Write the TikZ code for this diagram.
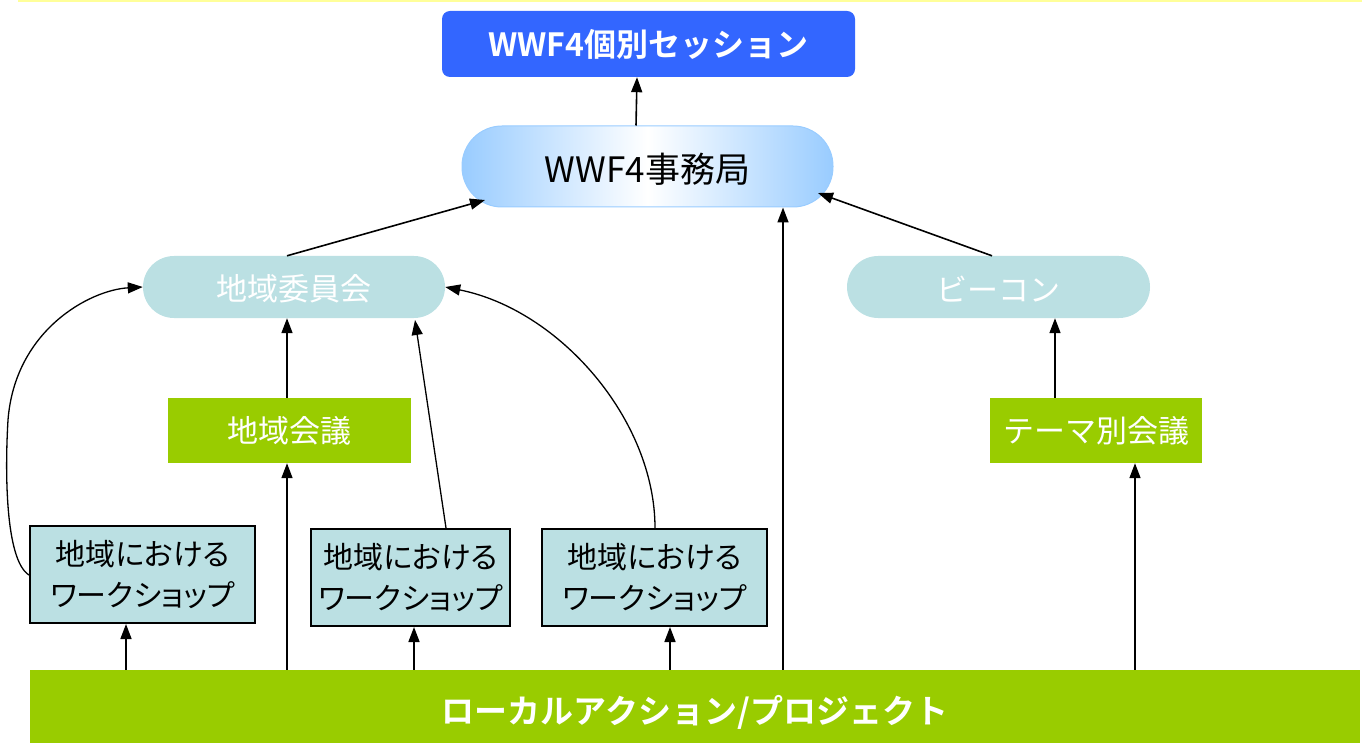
\documentclass[tikz,border=0pt]{standalone}
\usepackage{fontspec}
\setmainfont{Noto Sans CJK JP}
\newfontfamily\jpbold{Noto Sans CJK JP Bold}
\newfontfamily\jpprop[RawFeature=+palt]{Noto Sans CJK JP}
\usetikzlibrary{arrows.meta}
\definecolor{topblue}{HTML}{3366FF}
\definecolor{paleblue}{HTML}{99CCFF}
\definecolor{pillcol}{HTML}{BBE0E3}
\definecolor{grn}{HTML}{99CC00}
\definecolor{ylw}{HTML}{FFFF99}
\begin{document}
\begin{tikzpicture}[x=1pt,y=-1pt,
  arr/.style={draw=black,line width=1.6pt,-{Triangle[length=15pt,width=11pt]}},
  pill/.style={fill=pillcol,draw=none,rounded corners=31pt,inner sep=0pt},
  pilltext/.style={text=white,font=\fontsize{31}{34}\selectfont,inner sep=0pt},
  grnbox/.style={fill=grn,draw=none,text=white,font=\fontsize{31}{34}\selectfont,inner sep=0pt},
  wsbox/.style={fill=pillcol,draw=black,line width=2pt,text=black,align=center,font=\jpprop\fontsize{30}{41}\selectfont,inner sep=0pt}]
\useasboundingbox (0,0) rectangle (1362,743);
\fill[ylw] (18,0) rectangle (1362,2.5);
% nodes
\node[fill=topblue,rounded corners=8pt,text=white,inner sep=0pt,minimum width=413pt,minimum height=66pt,font=\jpbold\fontsize{32}{35}\selectfont] (sess) at (648.5,44) {WWF4個別セッション};
\node[rounded corners=40pt,draw=paleblue,line width=1pt,left color=paleblue,right color=paleblue,middle color=white,inner sep=0pt,minimum width=371pt,minimum height=81pt,label={[font=\fontsize{35}{38}\selectfont,inner sep=0pt,yshift=-3pt]center:WWF4事務局}] (sec) at (647.5,166.5) {};
\node[pill,minimum width=302pt,minimum height=62pt,label={[pilltext,yshift=-2pt]center:地域委員会}] (iin) at (294,287) {};
\node[pill,minimum width=303pt,minimum height=62pt,label={[pilltext,yshift=-2pt]center:ビーコン}] (bea) at (998.5,287) {};
\node[grnbox,minimum width=243pt,minimum height=65pt] (kai) at (289.5,430.5) {地域会議};
\node[grnbox,minimum width=212pt,minimum height=65pt] (thm) at (1096,430.5) {テーマ別会議};
\node[wsbox,minimum width=225pt,minimum height=97pt] (ws1) at (142.5,574.5) {地域における\\ワークショップ};
\node[wsbox,minimum width=199pt,minimum height=97pt] (ws2) at (410.5,577.5) {地域における\\ワークショップ};
\node[wsbox,minimum width=225pt,minimum height=97pt] (ws3) at (654.5,577.5) {地域における\\ワークショップ};
\node[fill=grn,inner sep=0pt,minimum width=1330pt,minimum height=73pt,label={[text=white,inner sep=0pt,font=\jpbold\fontsize{33}{36}\selectfont,yshift=-6pt]center:ローカルアクション/プロジェクト}] (bar) at (695,706.5) {};
% connectors
\draw[arr] ([xshift=-11.5pt]sec.north) -- ([xshift=-11.5pt]sess.south);
\draw[arr] ([xshift=-7pt]iin.north) -- (485,200);
\draw[arr] ([xshift=-6.5pt]bea.north) -- (818,193);
\draw[arr] (bar.north -| 783,0) -- (sec.south -| 783,0);
\draw[arr] (kai.north -| 287,0) -- (iin.south -| 287,0);
\draw[arr] (thm.north -| 1055,0) -- (bea.south -| 1055,0);
\draw[arr] (bar.north -| 287,0) -- (kai.south -| 287,0);
\draw[arr] (bar.north -| 1135,0) -- (thm.south -| 1135,0);
\draw[arr] (bar.north -| 126,0) -- (ws1.south -| 126,0);
\draw[arr] (bar.north -| 414,0) -- (ws2.south -| 414,0);
\draw[arr] (bar.north -| 670,0) -- (ws3.south -| 670,0);
\draw[arr,line width=1.3pt] (ws1.west |- 0,575) .. controls (5,560) and (5,470) .. (8,420) .. controls (15,330) and (90,290) .. (iin.west);
\draw[arr,line width=1.3pt] (ws2.north -| 446,0) -- (415,320);
\draw[arr,line width=1.3pt] (ws3.north -| 655,0) .. controls (655,420) and (560,310) .. (iin.east);
\end{tikzpicture}
\end{document}
